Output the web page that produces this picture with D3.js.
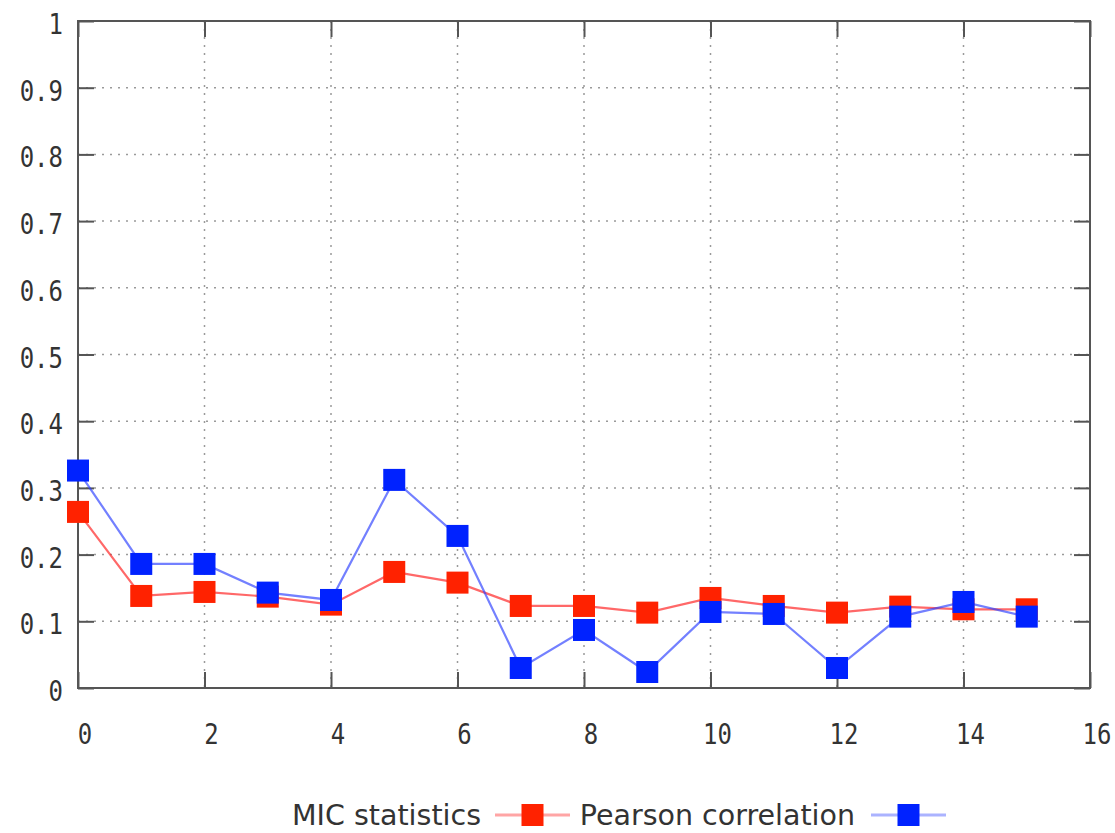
<!DOCTYPE html>
<html>
<head>
<meta charset="utf-8">
<script src="https://cdn.jsdelivr.net/npm/d3@7"></script>
<style>
  html, body { margin: 0; padding: 0; background: #fff; }
  svg { display: block; }
  .tick-label { font-family: "DejaVu Sans Mono", monospace; font-size: 24px; fill: #333; }
  .legend-label { font-family: "DejaVu Sans", sans-serif; font-size: 28.5px; fill: #333; }
</style>
</head>
<body>
<svg id="chart" width="1115" height="833"></svg>
<script>
// Index along the x axis
const xs = [0, 1, 2, 3, 4, 5, 6, 7, 8, 9, 10, 11, 12, 13, 14, 15];
// MIC statistic per index
const micValues = [0.264, 0.138, 0.144, 0.137, 0.125, 0.174, 0.158, 0.123, 0.123, 0.113, 0.135, 0.123, 0.113, 0.122, 0.118, 0.118];
// Pearson correlation per index
const pearsonValues = [0.326, 0.186, 0.186, 0.143, 0.132, 0.312, 0.228, 0.030, 0.087, 0.024, 0.114, 0.111, 0.030, 0.107, 0.129, 0.107];
// Axis ticks
const xTicks = [0, 2, 4, 6, 8, 10, 12, 14, 16];
const yTicks = [0, 0.1, 0.2, 0.3, 0.4, 0.5, 0.6, 0.7, 0.8, 0.9, 1];
const seriesNames = ["MIC statistics", "Pearson correlation"];

const svg = d3.select("#chart");
const plotLeft = 78, plotRight = 1090, plotTop = 21, plotBottom = 688;

const x = d3.scaleLinear().domain([0, 16]).range([plotLeft, plotRight]);
const y = d3.scaleLinear().domain([0, 1]).range([plotBottom, plotTop]);

const frameColor = "#555";
const tickLen = 16;

// Dotted grid
const grid = svg.append("g");
yTicks.filter(t => t > 0 && t < 1).forEach(t => {
  grid.append("line")
    .attr("x1", plotLeft).attr("x2", plotRight)
    .attr("y1", y(t)).attr("y2", y(t))
    .attr("stroke", "#9a9a9a").attr("stroke-width", 1.5)
    .attr("stroke-dasharray", "2,6");
});
xTicks.filter(t => t > 0 && t < 16).forEach(t => {
  grid.append("line")
    .attr("x1", x(t)).attr("x2", x(t))
    .attr("y1", plotTop).attr("y2", plotBottom)
    .attr("stroke", "#9a9a9a").attr("stroke-width", 1.5)
    .attr("stroke-dasharray", "2,6");
});

// Axes with inward ticks, mirrored on the opposite sides
const axLeft = svg.append("g").attr("transform", `translate(${plotLeft},0)`)
  .call(d3.axisRight(y).tickValues(yTicks).tickSize(tickLen).tickFormat(""));
const axRight = svg.append("g").attr("transform", `translate(${plotRight},0)`)
  .call(d3.axisLeft(y).tickValues(yTicks).tickSize(tickLen).tickFormat(""));
const axBottom = svg.append("g").attr("transform", `translate(0,${plotBottom})`)
  .call(d3.axisTop(x).tickValues(xTicks).tickSize(tickLen).tickFormat(""));
const axTop = svg.append("g").attr("transform", `translate(0,${plotTop})`)
  .call(d3.axisBottom(x).tickValues(xTicks).tickSize(tickLen).tickFormat(""));
[axLeft, axRight, axBottom, axTop].forEach(g => {
  g.selectAll("path").remove();
  g.selectAll("line").attr("stroke", frameColor).attr("stroke-width", 2);
});

// Frame
svg.append("rect")
  .attr("x", plotLeft).attr("y", plotTop)
  .attr("width", plotRight - plotLeft).attr("height", plotBottom - plotTop)
  .attr("fill", "none").attr("stroke", frameColor).attr("stroke-width", 2);

// Tick labels
const fmtY = d => (d === 0 || d === 1) ? String(d) : d3.format(".1f")(d);
svg.append("g").selectAll("text").data(yTicks).join("text")
  .attr("class", "tick-label")
  .attr("text-anchor", "end")
  .attr("transform", d => `translate(63,${y(d) + 3}) scale(1,1.2)`)
  .attr("dy", "0.35em")
  .text(fmtY);
svg.append("g").selectAll("text").data(xTicks).join("text")
  .attr("class", "tick-label")
  .attr("text-anchor", "middle")
  .attr("transform", d => `translate(${x(d) + 7},734) scale(1,1.2)`)
  .attr("dy", "0.35em")
  .text(d => d);

// Series
const series = [
  { name: seriesNames[0], values: micValues, line: "rgba(255,40,40,0.7)", fill: "#ff2200" },
  { name: seriesNames[1], values: pearsonValues, line: "rgba(40,60,255,0.65)", fill: "#0022ff" }
];
const sq = 22;
const lineGen = d3.line().x(d => x(d[0])).y(d => y(d[1]));

series.forEach(s => {
  const pts = xs.map((xv, i) => [xv, s.values[i]]);
  const g = svg.append("g");
  g.append("path").datum(pts)
    .attr("d", lineGen)
    .attr("fill", "none")
    .attr("stroke", s.line)
    .attr("stroke-width", 2.2);
  g.selectAll("rect").data(pts).join("rect")
    .attr("x", d => x(d[0]) - sq / 2)
    .attr("y", d => y(d[1]) - sq / 2)
    .attr("width", sq).attr("height", sq)
    .attr("fill", s.fill);
});

// Legend
const legend = svg.append("g");
const legendY = 815;
const legendItems = [
  { textEnd: 481, lineX1: 495, lineX2: 570 },
  { textEnd: 855, lineX1: 871, lineX2: 946 }
];
series.forEach((s, i) => {
  const it = legendItems[i];
  legend.append("text")
    .attr("class", "legend-label")
    .attr("x", it.textEnd).attr("y", legendY)
    .attr("dy", "0.35em")
    .attr("text-anchor", "end")
    .text(s.name);
  legend.append("line")
    .attr("x1", it.lineX1).attr("x2", it.lineX2)
    .attr("y1", legendY).attr("y2", legendY)
    .attr("stroke", s.line).attr("stroke-opacity", 0.6).attr("stroke-width", 3);
  legend.append("rect")
    .attr("x", (it.lineX1 + it.lineX2) / 2 - sq / 2)
    .attr("y", legendY - sq / 2)
    .attr("width", sq).attr("height", sq)
    .attr("fill", s.fill);
});
</script>
</body>
</html>
